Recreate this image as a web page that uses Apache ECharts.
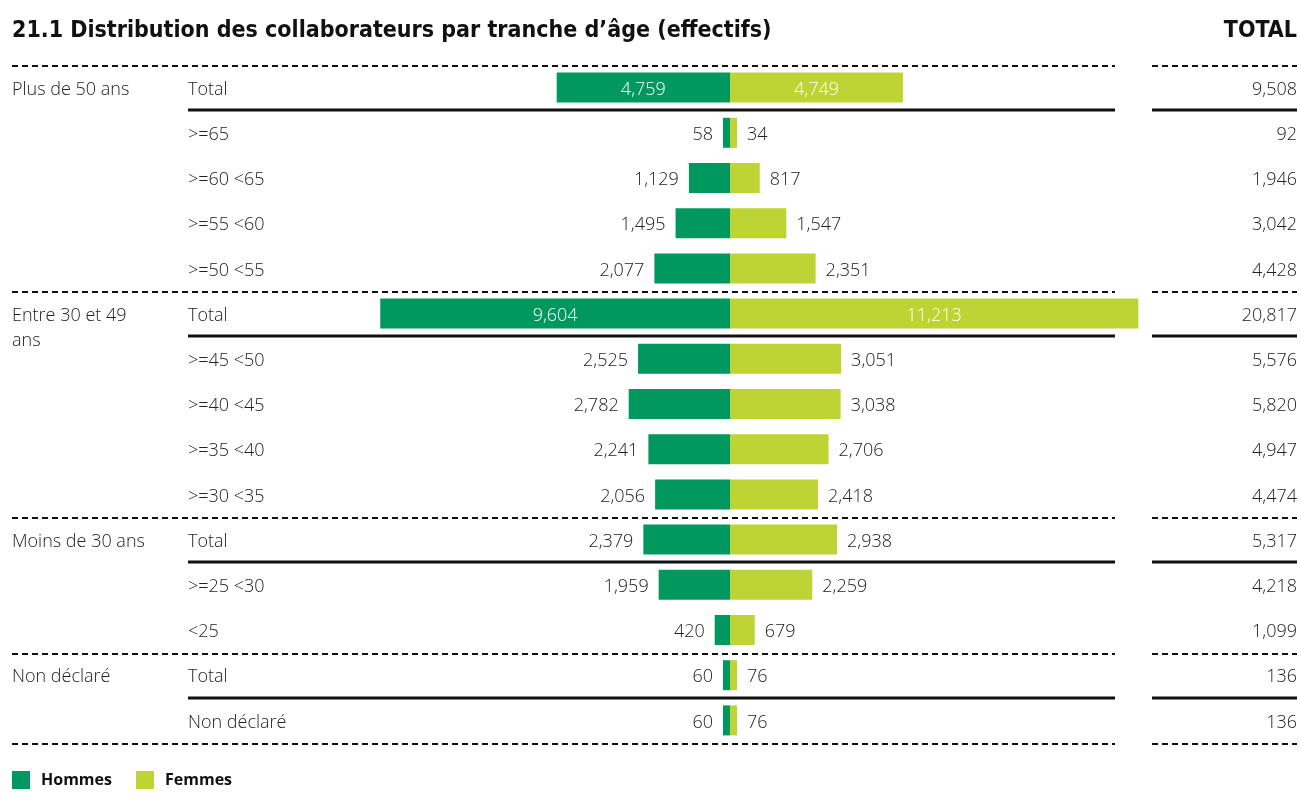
<!DOCTYPE html>
<html>
<head>
<meta charset="utf-8">
<script src="https://cdn.jsdelivr.net/npm/echarts@6/dist/echarts.min.js"></script>
<style>
  html, body { margin: 0; padding: 0; background: #fff; }
  #main { width: 1301px; height: 803px; }
</style>
</head>
<body>
<div id="main"></div>
<script>
// données
var groups = ['Plus de 50 ans', 'Entre 30 et 49\nans', 'Moins de 30 ans', 'Non déclaré'];
var groupStart = [0, 5, 10, 13];
var subLabels = ['Total', '>=65', '>=60 <65', '>=55 <60', '>=50 <55',
    'Total', '>=45 <50', '>=40 <45', '>=35 <40', '>=30 <35',
    'Total', '>=25 <30', '<25',
    'Total', 'Non déclaré'];
var hommes = [4759, 58, 1129, 1495, 2077, 9604, 2525, 2782, 2241, 2056, 2379, 1959, 420, 60, 60];
var femmes = [4749, 34, 817, 1547, 2351, 11213, 3051, 3038, 2706, 2418, 2938, 2259, 679, 76, 76];
var totals = [9508, 92, 1946, 3042, 4428, 20817, 5576, 5820, 4947, 4474, 5317, 4218, 1099, 136, 136];

var VERT = '#00985e';
var LIME = '#bed334';
var TXT = '#222';
var FONT = '"Open Sans", "Noto Sans", sans-serif';
var TFONT = '"Liberation Sans Narrow", "DejaVu Sans Condensed", "Open Sans", sans-serif';

function fmt(v) { return Math.abs(v).toLocaleString('en-US'); }

// petit décalage vers le bas du texte (police un peu haute)
var richLbl = { a: { padding: [4, 0, 0, 0], fontSize: 18, fontWeight: 300, color: TXT, fontFamily: FONT } };
function wrap(v) { return '{a|' + v + '}'; }

// les totaux larges ont l'étiquette dans la barre
function item(v, side) {
    var inside = v > 4000;
    return {
        value: side === 'left' ? -v : v,
        label: {
            show: true,
            position: inside ? 'inside' : side,
            distance: 10,
            offset: [0, 2],
            color: inside ? '#fff' : TXT,
            fontSize: 18,
            fontWeight: 300,
            fontFamily: FONT,
            formatter: function (p) { return fmt(p.value); }
        }
    };
}

var chart = echarts.init(document.getElementById('main'));

var option = {
    animation: false,
    textStyle: { fontFamily: FONT },
    title: [{
        text: '21.1 Distribution des collaborateurs par tranche d\u2019âge (effectifs)',
        left: 12, top: 20, padding: 0,
        textStyle: { fontFamily: TFONT, fontSize: 23, fontWeight: 'bold', color: '#111' }
    }, {
        text: 'TOTAL',
        right: 4, top: 20, padding: 0,
        textStyle: { fontFamily: TFONT, fontSize: 23, fontWeight: 'bold', color: '#111' }
    }],
    legend: {
        left: 12, top: 771, padding: 0,
        itemWidth: 18, itemHeight: 18, itemGap: 24,
        icon: 'rect',
        selectedMode: false,
        textStyle: { fontSize: 16, fontWeight: 'bold', color: '#111', padding: [0, 0, 0, 6], fontFamily: FONT },
        data: ['Hommes', 'Femmes']
    },
    grid: { left: 293, width: 874, top: 65, height: 678 },
    xAxis: {
        type: 'value', min: -12000, max: 12000, show: false
    },
    yAxis: [{
        type: 'category', inverse: true, data: subLabels,
        axisLine: { show: false }, axisTick: { show: false },
        axisLabel: { align: 'left', margin: 105, formatter: wrap, rich: richLbl }
    }, {
        type: 'category', inverse: true, position: 'right',
        data: totals.map(fmt),
        axisLine: { show: false }, axisTick: { show: false },
        axisLabel: { align: 'right', margin: 130, formatter: wrap, rich: richLbl }
    }],
    series: [{
        name: 'Hommes', type: 'bar', barWidth: 30, barGap: '-100%', barMinHeight: 7,
        itemStyle: { color: VERT },
        data: hommes.map(function (v) { return item(v, 'left'); })
    }, {
        name: 'Femmes', type: 'bar', barWidth: 30, barGap: '-100%', barMinHeight: 7,
        itemStyle: { color: LIME },
        data: femmes.map(function (v) { return item(v, 'right'); })
    }]
};
chart.setOption(option);

// lignes de séparation et libellés de groupe
var y0 = chart.convertToPixel({ yAxisIndex: 0 }, 0);
var step = chart.convertToPixel({ yAxisIndex: 0 }, 1) - y0;
function edge(k) { return Math.round(y0 + (k - 0.5) * step); }

var g = [];
function hline(x1, x2, y, dotted) {
    g.push({
        type: 'line', silent: true,
        shape: { x1: x1, y1: y, x2: x2, y2: y },
        style: dotted ? { stroke: '#111', lineWidth: 2, lineDash: [6, 4] } : { stroke: '#111', lineWidth: 3 }
    });
}
var dotted = groupStart.concat([subLabels.length]);
dotted.forEach(function (k) {
    hline(12, 1115, edge(k) + 1, true);
    hline(1152, 1297, edge(k) + 1, true);
});
groupStart.forEach(function (k) {
    hline(188, 1115, edge(k + 1), false);
    hline(1152, 1297, edge(k + 1), false);
});
groups.forEach(function (name, i) {
    var yc = y0 + groupStart[i] * step;
    g.push({
        type: 'text', silent: true, left: 12, top: yc - 10.5,
        style: { text: name, fontSize: 18, fontWeight: 300, lineHeight: 25, fill: TXT, fontFamily: FONT }
    });
});
chart.setOption({ graphic: g });

window.addEventListener('resize', function () { chart.resize(); });
</script>
</body>
</html>
